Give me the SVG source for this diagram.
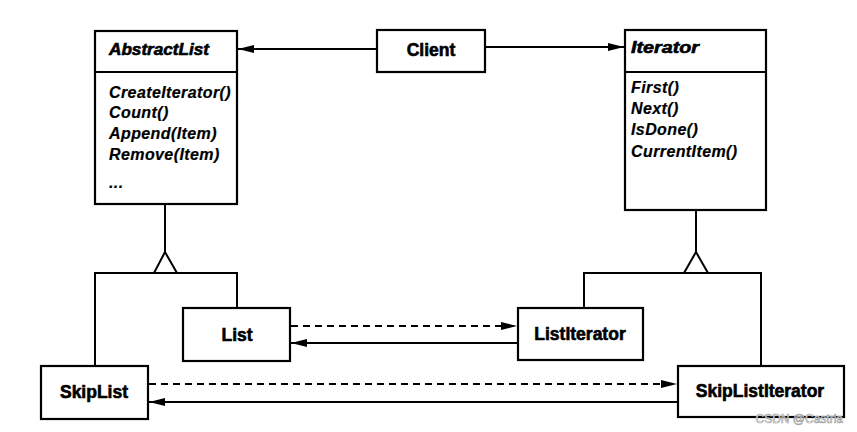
<svg xmlns="http://www.w3.org/2000/svg" width="857" height="432" viewBox="0 0 857 432">
<style>
.box{fill:#fff;stroke:#000;stroke-width:2.2}
.ln{fill:none;stroke:#000;stroke-width:2}
.dash{fill:none;stroke:#000;stroke-width:2;stroke-dasharray:7 5}
.tri{fill:#fff;stroke:#000;stroke-width:2;stroke-linejoin:miter}
.lbl{font-family:"Liberation Sans",Arial,sans-serif;font-weight:bold;font-size:17.5px;text-anchor:middle;stroke:#000;stroke-width:0.6}
.ttl{font-family:"Liberation Sans",Arial,sans-serif;font-weight:bold;font-style:italic;font-size:16px;stroke:#000;stroke-width:0.6}
.mth{font-family:"Liberation Sans",Arial,sans-serif;font-weight:bold;font-style:italic;font-size:16px;letter-spacing:0.4px;stroke:#000;stroke-width:0.2}
.wm{font-family:"Liberation Sans",Arial,sans-serif;font-size:12px;fill:#fff;stroke:#999;stroke-width:0.6;text-anchor:end}
</style>
<defs>
<marker id="ah" markerUnits="userSpaceOnUse" markerWidth="16" markerHeight="8" refX="16" refY="4" orient="auto">
<path d="M0,0 L16,4 L0,8 z" fill="#000"/>
</marker>
</defs>
<g id="connectors">
<line class="ln" x1="377" y1="49" x2="238" y2="49" marker-end="url(#ah)"/>
<line class="ln" x1="485" y1="47" x2="624" y2="47" marker-end="url(#ah)"/>
<line class="ln" x1="165" y1="204" x2="165" y2="252"/>
<polyline class="ln" points="95,366 95,273 237,273 237,308"/>
<polygon class="tri" points="165,252 154,273 177,273"/>
<line class="ln" x1="696" y1="210" x2="696" y2="252"/>
<polyline class="ln" points="584,308 584,273 761,273 761,366"/>
<polygon class="tri" points="696,252 684,273 708,273"/>
<line class="dash" x1="291" y1="326" x2="517" y2="326" marker-end="url(#ah)"/>
<line class="ln" x1="518" y1="343" x2="291" y2="343" marker-end="url(#ah)"/>
<line class="dash" x1="149" y1="384" x2="677" y2="384" marker-end="url(#ah)"/>
<line class="ln" x1="678" y1="402" x2="149" y2="402" marker-end="url(#ah)"/>
</g>
<g id="AbstractList">
<rect class="box" x="95" y="31" width="142" height="173"/>
<line class="ln" x1="95" y1="72" x2="237" y2="72"/>
<text class="ttl" x="109" y="55" textLength="100" lengthAdjust="spacingAndGlyphs">AbstractList</text>
<text class="mth" x="109" y="98">CreateIterator()</text>
<text class="mth" x="109" y="118">Count()</text>
<text class="mth" x="109" y="139">Append(Item)</text>
<text class="mth" x="109" y="160">Remove(Item)</text>
<text class="mth" x="109" y="188">...</text>
</g>
<g id="Client">
<rect class="box" x="377" y="30" width="108" height="42"/>
<text class="lbl" x="431" y="56">Client</text>
</g>
<g id="Iterator">
<rect class="box" x="625" y="30" width="141" height="180"/>
<line class="ln" x1="625" y1="72" x2="766" y2="72"/>
<text class="ttl" x="631" y="53" textLength="68" lengthAdjust="spacingAndGlyphs">Iterator</text>
<text class="mth" x="631" y="93">First()</text>
<text class="mth" x="631" y="114">Next()</text>
<text class="mth" x="631" y="135">IsDone()</text>
<text class="mth" x="631" y="157">CurrentItem()</text>
</g>
<g id="List">
<rect class="box" x="183" y="308" width="107" height="53"/>
<text class="lbl" x="237" y="341">List</text>
</g>
<g id="SkipList">
<rect class="box" x="41" y="366" width="107" height="53"/>
<text class="lbl" x="94" y="398">SkipList</text>
</g>
<g id="ListIterator">
<rect class="box" x="518" y="308" width="125" height="52"/>
<text class="lbl" x="580" y="340">ListIterator</text>
</g>
<g id="SkipListIterator">
<rect class="box" x="678" y="366" width="166" height="51"/>
<text class="lbl" x="760" y="397">SkipListIterator</text>
</g>
<text class="wm" x="843" y="423">CSDN @Castria</text>
</svg>
